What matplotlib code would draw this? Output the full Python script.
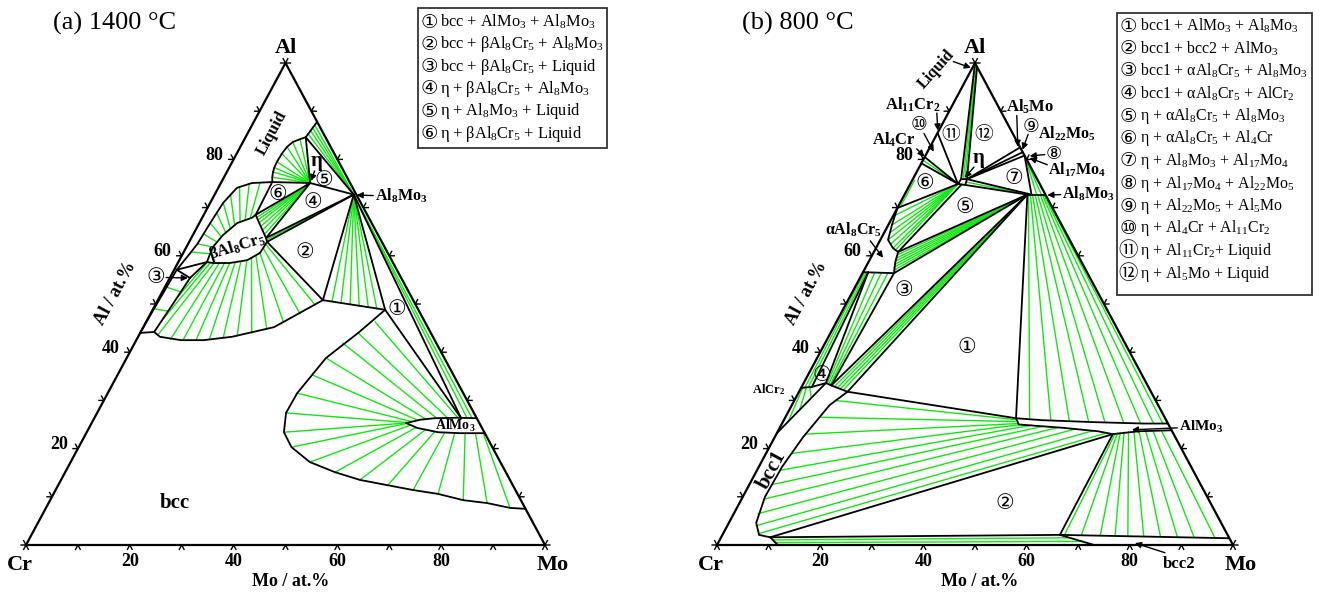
import numpy as np
import matplotlib
matplotlib.use("Agg")
import matplotlib.pyplot as plt
from matplotlib.patches import Rectangle

plt.rcParams['font.family'] = ['Liberation Serif', 'DejaVu Sans']
plt.rcParams['mathtext.default'] = 'regular'

W, H = 1321, 592
GREEN = '#10e810'
LWB = 1.3
LWG = 1.0
CIRC_FAMILY = ['DejaVu Sans', 'Noto Sans CJK JP']

# ============ (a) 1400 °C : compositions (Mo at.%, Al at.%) ============
a_Al8Mo3 = (26.8, 72.7)
a_eta = (17.2, 75.1)
a_L_edge = (12.2, 87.8)
a_L1 = (11.6, 84.6)
a_L2 = (9.8, 75.3)
a_L3 = (0.5, 57.1)
a_L4 = (0.0, 44.0)
a_B1 = (10.0, 68.5)
a_B2p = (14.4, 63.7)
a_B2 = (15.0, 62.9)
a_B3 = (5.5, 58.7)
a_B4 = (3.9, 55.4)
a_B5 = (2.6, 44.2)
a_P = (31.8, 50.8)
a_Q = (44.8, 48.8)
a_R = (70.7, 26.3)

a_liq_eta = [(11.6, 84.6), (10.7, 84.2), (9.6, 83.6), (9.0, 82.6), (8.7, 81.2), (8.6, 79.5),
             (8.7, 78.3), (8.9, 77.4), (9.3, 76.3), (9.8, 75.3)]
a_liq_outer = [(9.8, 75.3), (6.0, 75.1), (3.6, 74.1), (2.5, 71.0), (2.1, 66.8), (1.8, 62.5),
               (1.3, 60.3), (0.5, 57.1), (0.2, 50.0), (0.0, 44.0)]
a_beta = [(5.5, 58.7), (5.1, 61.8), (5.8, 64.3), (7.3, 66.8), (9.6, 67.9), (10.0, 68.5), (11.9, 66.4),
          (14.4, 63.7), (15.0, 62.9), (14.8, 60.6), (13.1, 59.1), (10.0, 58.5), (6.8, 58.5), (5.5, 58.7)]
a_bcc_upper = [(3.9, 55.4), (3.3, 50.0), (2.6, 44.2), (4.2, 43.2), (8.6, 42.5), (13.0, 42.5), (18.1, 43.2),
               (25.2, 45.2), (31.8, 50.8), (44.8, 48.8)]
a_bcc_lower = [(44.8, 48.8), (42.0, 44.0), (38.4, 38.8), (36.5, 31.5), (36.4, 27.4), (38.0, 23.4), (41.0, 20.3),
               (46.1, 17.2), (52.0, 15.1), (57.6, 13.5), (63.5, 12.4), (68.9, 11.4), (74.1, 10.6), (79.6, 9.3),
               (84.5, 8.7), (89.4, 7.7), (92.5, 7.5)]
a_almo3_top = [(60.6, 25.3), (63.0, 26.0), (65.5, 26.3), (70.0, 26.4), (73.7, 26.3)]
a_almo3_bot = [(60.6, 25.3), (63.2, 24.3), (67.7, 23.4), (72.0, 23.2), (76.8, 23.2)]

a_black_ties = [(a_L1, a_eta), (a_L2, a_eta), (a_L2, a_B1), (a_B1, a_eta), (a_eta, a_B2p),
                (a_B2p, a_Al8Mo3), (a_B2, a_Al8Mo3), (a_eta, a_Al8Mo3), (a_L1, a_Al8Mo3),
                (a_B2, a_P), (a_P, a_Al8Mo3), (a_Q, a_Al8Mo3), (a_Q, a_R), (a_R, a_Al8Mo3),
                (a_L3, a_B3), (a_L3, a_B4), (a_B3, a_B4), (a_L4, a_B5), (a_L_edge, a_L1)]

a_tie_eta_liq = [(10.7, 84.2), (9.6, 83.6), (9.0, 82.6), (8.7, 81.2), (8.6, 79.5), (8.7, 78.3),
                 (8.9, 77.4), (9.3, 76.3)]
a_tie_al8mo3_liq = [(11.7, 85.3), (11.8, 86.0), (11.9, 86.6), (12.0, 87.2)]
a_tie_eta_beta = [(10.5, 68.0), (11.0, 67.5), (11.5, 66.9), (12.2, 66.1), (12.9, 65.3), (13.7, 64.4)]
a_tie_lb_liq = [(7.5, 75.2), (5.5, 75.0), (4.0, 74.3), (3.0, 72.8), (2.5, 71.0), (2.2, 69.0), (2.1, 66.8),
                (2.0, 64.5), (1.8, 62.5), (1.5, 60.8)]
a_tie_lb_beta = [(9.3, 67.8), (8.5, 67.5), (7.7, 67.1), (7.0, 66.4), (6.5, 65.7), (6.0, 64.9), (5.6, 64.0),
                 (5.3, 62.9), (5.1, 61.8), (5.2, 60.4)]
a_tie_lbcc_liq = [(0.35, 53.5), (0.2, 49.0)]
a_tie_lbcc_bcc = [(3.6, 52.5), (3.1, 48.5)]
a_tie_bb_beta = [(5.6, 58.6), (6.2, 58.5), (7.0, 58.5), (8.0, 58.5), (9.0, 58.5), (10.0, 58.5), (11.0, 58.6),
                 (12.0, 58.8), (13.0, 59.1), (13.7, 59.5), (14.3, 60.0), (14.7, 60.7), (14.9, 61.6), (15.0, 62.4)]
a_tie_bb_bcc = [(3.5, 51.5), (3.0, 47.0), (3.6, 43.5), (6.5, 42.7), (9.0, 42.5), (11.5, 42.5), (14.0, 42.6),
                (16.5, 43.0), (19.0, 43.4), (21.5, 44.0), (24.0, 44.8), (26.5, 46.2), (28.8, 48.0), (30.8, 49.8)]
a_tie_al8mo3_bcc = [(33.7, 50.5), (35.6, 50.2), (37.5, 49.9), (39.4, 49.6), (41.3, 49.3), (43.1, 49.0)]
a_tie_al8mo3_almo3 = [(71.8, 26.35), (72.8, 26.3)]
a_tie_al8mo3_beta = [(14.7, 63.3)]
a_tie_ba_bcc = [(44.1, 46.3), (42.0, 44.0), (40.1, 41.9), (38.4, 38.8), (37.5, 35.3), (36.5, 31.5), (36.4, 27.4),
                (38.0, 23.4), (41.0, 20.3), (46.1, 17.2), (52.0, 15.1), (57.6, 13.5), (63.5, 12.4), (68.9, 11.4),
                (74.1, 10.6), (79.6, 9.3), (84.5, 8.7), (89.4, 7.7)]
a_tie_ba_almo3 = [(70.0, 26.4), (68.0, 26.4), (66.0, 26.3), (64.0, 26.1), (62.5, 25.9), (61.5, 25.6), (60.8, 25.4),
                  (60.6, 25.3), (60.7, 25.2), (61.5, 24.8), (63.0, 24.4), (65.0, 23.9), (67.0, 23.5), (69.0, 23.3),
                  (71.0, 23.2), (73.0, 23.2), (75.0, 23.2), (76.5, 23.2)]

a_legend = [r'bcc + AlMo$_3$ + Al$_8$Mo$_3$', r'bcc + βAl$_8$Cr$_5$ + Al$_8$Mo$_3$',
            r'bcc + βAl$_8$Cr$_5$ + Liquid', r'η + βAl$_8$Cr$_5$ + Al$_8$Mo$_3$',
            r'η + Al$_8$Mo$_3$ + Liquid', r'η + βAl$_8$Cr$_5$ + Liquid']

# ============ (b) 800 °C ============
b_La = (0.0, 100.0)
b_Lb = (0.8, 99.2)
b_eta_poly = [(9.25, 74.9), (9.35, 75.9), (10.5, 75.9), (10.75, 74.7), (9.25, 74.9)]
b_etaBL = (9.25, 74.9)
b_etaTL = (9.35, 75.9)
b_etaTR = (10.5, 75.9)
b_etaBR = (10.75, 74.7)
b_etaB = (10.0, 74.8)
b_Al11Cr2 = (0.0, 85.5)
b_Al4Cr_u = (0.0, 80.5)
b_Al4Cr_l = (0.0, 79.2)
b_Al5Mo = (17.5, 82.5)
b_Al22Mo5 = (18.5, 81.5)
b_Al17Mo4 = (19.2, 80.8)
b_AL = (23.8, 72.7)
b_A8a = (24.6, 72.7)
b_AR = (27.3, 72.7)
b_alpha = [(0.0, 69.9), (0.7, 66.4), (1.5, 63.3), (3.3, 61.6), (4.7, 60.8), (5.2, 58.7), (6.1, 56.4), (0.0, 56.6)]
b_aT = (0.0, 69.9)
b_aE = (4.7, 60.8)
b_aB = (6.1, 56.4)
b_aM = (1.0, 56.6)
b_AlCr2 = [(0.0, 32.6), (2.0, 32.8)]
b_AlCr2R = (2.0, 32.8)
b_T1 = (4.3, 33.6)
b_T2 = (5.6, 33.1)
b_T3 = (9.4, 31.8)
b_E1 = (0.0, 23.2)
b_bcc1 = [(4.3, 33.6), (5.6, 33.1), (9.4, 31.8), (7.3, 29.0), (5.5, 22.4), (4.5, 16.2), (4.3, 10.0),
          (5.3, 4.6), (7.1, 2.1), (9.5, 1.6)]
b_AM = (44.8, 26.3)
b_A2 = (65.2, 23.0)
b_almo3_top = [(44.8, 26.3), (50.0, 25.9), (60.0, 25.5), (70.0, 25.2), (74.8, 25.2)]
b_almo3_bot = [(44.8, 26.3), (46.0, 25.0), (55.0, 24.3), (62.0, 23.6), (65.2, 23.0), (70.0, 23.6), (76.2, 23.8)]
b_B1v = (9.5, 1.6)
b_B2v = (65.4, 2.1)
b_bcc1_foot = (11.8, 0.0)
b_bcc2_foot = (73.1, 0.0)
b_bcc2_edge = (98.6, 1.4)

b_black_ties = [(b_Al11Cr2, b_etaBL), (b_Al4Cr_u, b_etaBL), (b_Al4Cr_l, b_etaBL), (b_La, b_etaTL),
                (b_Lb, b_etaTR), (b_etaTR, b_Al5Mo), (b_etaTR, b_Al22Mo5), (b_etaTR, b_Al17Mo4),
                (b_etaTR, b_A8a), (b_etaBR, b_AL), (b_aT, b_etaBL), (b_aE, b_etaB), (b_aE, b_AL),
                (b_aB, b_AL), (b_aB, b_T2), (b_aM, b_T1), (b_AlCr2R, b_aM), (b_AlCr2R, b_T1),
                (b_E1, b_T1), (b_AL, b_T2), (b_AL, b_T3), (b_AL, b_AM), (b_T3, b_AM),
                (b_Al17Mo4, b_A8a), (b_A2, b_B1v), (b_B1v, b_B2v), (b_B2v, b_A2), (b_AL, b_AR),
                (b_B1v, b_bcc1_foot), (b_B2v, b_bcc2_foot), (b_B2v, b_bcc2_edge)]

b_tie_liq_eta = [((0.27, 99.73), (9.75, 75.9)), ((0.53, 99.47), (10.1, 75.9))]
b_tie_al4cr_eta = [(0.0, 79.85)]
b_tie_al4cr_alpha = [((0.45, 75.7), (0.45, 70.2))]
b_tie_eta_alpha = [(0.3, 68.4), (0.7, 66.4), (1.1, 64.8), (1.5, 63.3), (2.4, 62.4), (3.3, 61.6), (4.0, 61.2)]
b_tie_eta_al8mo3 = [((10.6, 75.3), (24.2, 72.7))]
b_tie_al17mo4_al8mo3 = [(25.6, 72.7), (26.5, 72.7)]
b_tie_alpha_al8mo3 = [(4.85, 60.2), (5.0, 59.5), (5.15, 58.9), (5.3, 58.2), (5.5, 57.6), (5.8, 57.0)]
b_tie_alcr2_alpha = [((0.3, 56.6), (0.7, 32.6)), ((0.65, 56.6), (1.35, 32.7))]
b_tie_bcc1_alpha = [((2.3, 56.55), (4.6, 33.5)), ((3.6, 56.5), (4.95, 33.4)), ((4.9, 56.45), (5.3, 33.2))]
b_tie_bcc1_al8mo3 = [(6.3, 32.85), (7.0, 32.6), (7.7, 32.4), (8.4, 32.15)]
b_tie_aa_top = [(24.0, 72.7), (24.4, 72.7), (24.8, 72.7), (25.3, 72.7), (25.8, 72.7), (26.3, 72.7),
                (26.7, 72.7), (27.0, 72.7), (27.2, 72.7)]
b_tie_aa_bot = [(47.6, 26.0), (51.8, 25.8), (55.5, 25.6), (59.3, 25.5), (62.5, 25.4), (66.2, 25.3),
                (69.5, 25.2), (72.0, 25.2), (73.8, 25.2)]
b_tie_alcr2_bcc1 = [((0.3, 32.6), (1.0, 25.6)), ((1.0, 32.7), (2.0, 28.0)), ((1.6, 32.75), (3.0, 30.5))]
b_tie_ba_bcc1 = [(7.8, 30.0), (6.5, 26.5), (5.6, 23.0), (5.0, 19.0), (4.5, 15.5), (4.3, 12.5), (4.3, 9.5),
                 (4.7, 6.5), (5.6, 4.0), (7.0, 2.4)]
b_tie_ba_almo3 = [(45.0, 26.0), (45.3, 25.6), (45.7, 25.2), (46.5, 25.0), (48.5, 24.85), (51.0, 24.65),
                  (54.0, 24.4), (57.5, 24.1), (61.0, 23.7), (64.0, 23.3)]
b_tie_bcc12 = [((10.3, 1.05), (67.6, 1.5)), ((11.0, 0.5), (70.5, 0.75))]
b_tie_b2a_top = [(65.6, 23.1), (66.0, 23.2), (66.5, 23.3), (67.2, 23.4), (68.0, 23.5), (69.0, 23.6),
                 (70.0, 23.6), (71.2, 23.7), (72.6, 23.75), (74.2, 23.8)]
b_tie_b2a_bot = [(66.3, 2.05), (69.6, 2.0), (73.3, 1.95), (76.2, 1.9), (78.7, 1.85), (81.8, 1.8),
                 (85.1, 1.7), (88.4, 1.65), (91.7, 1.55), (95.8, 1.45)]

b_legend = [r'bcc1 + AlMo$_3$ + Al$_8$Mo$_3$', r'bcc1 + bcc2 + AlMo$_3$',
            r'bcc1 + αAl$_8$Cr$_5$ + Al$_8$Mo$_3$', r'bcc1 + αAl$_8$Cr$_5$ + AlCr$_2$',
            r'η + αAl$_8$Cr$_5$ + Al$_8$Mo$_3$', r'η + αAl$_8$Cr$_5$ + Al$_4$Cr',
            r'η + Al$_8$Mo$_3$ + Al$_{17}$Mo$_4$', r'η + Al$_{17}$Mo$_4$ + Al$_{22}$Mo$_5$',
            r'η + Al$_{22}$Mo$_5$ + Al$_5$Mo', r'η + Al$_4$Cr + Al$_{11}$Cr$_2$',
            r'η + Al$_{11}$Cr$_2$+ Liquid', r'η + Al$_5$Mo + Liquid']
CIRCLED = ['①', '②', '③', '④', '⑤', '⑥', '⑦', '⑧', '⑨', '⑩', '⑪', '⑫']

# ======================== drawing helpers ========================
fig = plt.figure(figsize=(W / 100, H / 100), dpi=100)


def xy(pts):
    a = np.atleast_2d(np.asarray(pts, float))
    return a[:, 0] + a[:, 1] / 2.0, a[:, 1]


def line(ax, pts, color='k', lw=LWB, z=3):
    x, y = xy(pts)
    ax.plot(x, y, color=color, lw=lw, zorder=z, clip_on=False,
            solid_capstyle='round', solid_joinstyle='round')


def fan(ax, center, ends, color=GREEN, lw=LWG, z=2):
    for e in ends:
        line(ax, [center, e], color, lw, z)


def pairs(ax, starts, ends, color=GREEN, lw=LWG, z=2):
    for s, e in zip(starts, ends):
        line(ax, [s, e], color, lw, z)


def plist(ax, prs, color=GREEN, lw=LWG, z=2):
    for s, e in prs:
        line(ax, [s, e], color, lw, z)


def setup(rect):
    ax = fig.add_axes(rect)
    ax.set_xlim(0, 100)
    ax.set_ylim(0, 100)
    ax.axis('off')
    return ax


def frame(ax):
    ax.plot([0, 100, 50, 0], [0, 0, 100, 0], color='k', lw=1.6, zorder=5, clip_on=False)
    for v in range(0, 101, 10):
        for (x0, y0), (d1x, d1y), (d2x, d2y) in [((v, 0), (-0.45, -0.9), (0.45, -0.9)),
                                                 ((v / 2, v), (-0.95, 0), (-0.45, 0.9)),
                                                 ((100 - v / 2, v), (0.95, 0), (0.45, 0.9))]:
            ax.plot([x0 + d1x, x0, x0 + d2x], [y0 + d1y, y0, y0 + d2y], color='k', lw=1.0,
                    zorder=5, clip_on=False)
    for v in (20, 40, 60, 80):
        ax.text(v, -3.5, str(v), ha='center', va='center', fontsize=13, fontweight='bold')
        ax.text(v / 2 - 3.7, v + 0.8, str(v), ha='center', va='center', fontsize=13, fontweight='bold')
    ax.text(50, 103.2, 'Al', ha='center', va='center', fontsize=16, fontweight='bold')
    ax.text(-1.2, -4.1, 'Cr', ha='center', va='center', fontsize=16, fontweight='bold')
    ax.text(101.4, -4.1, 'Mo', ha='center', va='center', fontsize=16, fontweight='bold')
    ax.text(51, -7.6, 'Mo / at.%', ha='center', va='center', fontsize=13, fontweight='bold')
    ax.text(17.3, 52.3, 'Al / at.%', ha='center', va='center', fontsize=13, fontweight='bold',
            rotation=61.7, rotation_mode='anchor')


def circ(ax, X, Y, s, size=15):
    ax.text(X, Y, s, family=CIRC_FAMILY, fontsize=size, ha='center', va='center', zorder=7)


def lab(ax, X, Y, s, size=11.5, **kw):
    kw.setdefault('ha', 'center')
    ax.text(X, Y, s, fontsize=size, fontweight='bold', va='center', zorder=7, **kw)


def arrow(ax, tail, tip):
    ax.annotate('', xy=tip, xytext=tail,
                arrowprops=dict(arrowstyle='-|>', color='k', lw=1.0, mutation_scale=9,
                                shrinkA=0, shrinkB=0), annotation_clip=False, zorder=7)


def legend_box(x0, y0, x1, y1, items, ystart, dy, xc, xt, fs):
    fig.add_artist(Rectangle((x0 / W, 1 - y1 / H), (x1 - x0) / W, (y1 - y0) / H,
                             transform=fig.transFigure, fill=False, lw=1.3, ec='#333333'))
    for i, s in enumerate(items):
        y = ystart + i * dy
        fig.text(xc / W, 1 - y / H, CIRCLED[i], family=CIRC_FAMILY, fontsize=14,
                 ha='center', va='center')
        fig.text(xt / W, 1 - y / H, s, fontsize=fs, ha='left', va='center')


# ======================== (a) 1400 °C ========================
axA = setup([26 / W, 47 / H, 519 / W, 482 / H])
frame(axA)
fan(axA, a_eta, a_tie_eta_liq)
fan(axA, a_Al8Mo3, a_tie_al8mo3_liq)
fan(axA, a_eta, a_tie_eta_beta)
pairs(axA, a_tie_lb_liq, a_tie_lb_beta)
pairs(axA, a_tie_lbcc_liq, a_tie_lbcc_bcc)
pairs(axA, a_tie_bb_beta, a_tie_bb_bcc)
fan(axA, a_Al8Mo3, a_tie_al8mo3_bcc)
fan(axA, a_Al8Mo3, a_tie_al8mo3_almo3)
fan(axA, a_Al8Mo3, a_tie_al8mo3_beta)
pairs(axA, a_tie_ba_bcc, a_tie_ba_almo3)

for curve in (a_liq_eta, a_liq_outer, a_beta, a_bcc_upper, a_bcc_lower, a_almo3_top, a_almo3_bot):
    line(axA, curve)
for s, e in a_black_ties:
    line(axA, [s, e])

axA.text(5.2, 108.3, '(a) 1400 °C', fontsize=19, ha='left', va='center')
lab(axA, 47.4, 85.5, 'Liquid', 12, rotation=61.7)
lab(axA, 56.0, 79.6, 'η', 15)
arrow(axA, (55.6, 77.6), (54.9, 75.5))
lab(axA, 40.7, 61.8, r'βAl$_8$Cr$_5$', 12, rotation=17)
lab(axA, 67.2, 72.4, r'Al$_8$Mo$_3$', 11.5, ha='left')
arrow(axA, (66.9, 72.5), (63.7, 72.6))
lab(axA, 82.7, 24.6, r'AlMo$_3$', 10)
lab(axA, 28.7, 8.7, 'bcc', 15)
circ(axA, 25.0, 55.6, '③')
arrow(axA, (27.0, 55.5), (31.2, 55.4))
for s, X, Y in [('①', 71.5, 49.0), ('②', 53.8, 60.8), ('④', 55.3, 71.2), ('⑤', 57.4, 75.7), ('⑥', 48.6, 72.8)]:
    circ(axA, X, Y, s)

legend_box(418, 8, 607, 148, a_legend, 22, 22.3, 429, 440, 11.8)

# ======================== (b) 800 °C ========================
axB = setup([717 / W, 47 / H, 516 / W, 482 / H])
frame(axB)
plist(axB, b_tie_liq_eta)
fan(axB, b_etaBL, b_tie_al4cr_eta)
plist(axB, b_tie_al4cr_alpha)
fan(axB, b_etaBL, b_tie_eta_alpha)
plist(axB, b_tie_eta_al8mo3)
fan(axB, b_Al17Mo4, b_tie_al17mo4_al8mo3)
fan(axB, b_AL, b_tie_alpha_al8mo3)
plist(axB, b_tie_alcr2_alpha)
plist(axB, b_tie_bcc1_alpha)
fan(axB, b_AL, b_tie_bcc1_al8mo3)
pairs(axB, b_tie_aa_top, b_tie_aa_bot)
plist(axB, b_tie_alcr2_bcc1)
pairs(axB, b_tie_ba_bcc1, b_tie_ba_almo3)
plist(axB, b_tie_bcc12)
pairs(axB, b_tie_b2a_top, b_tie_b2a_bot)

for curve in (b_eta_poly, b_alpha, b_AlCr2, b_bcc1, b_almo3_top, b_almo3_bot):
    line(axB, curve)
for s, e in b_black_ties:
    line(axB, [s, e])

axB.text(4.8, 108.3, '(b) 800 °C', fontsize=19, ha='left', va='center')
lab(axB, 42.5, 98.6, 'Liquid', 11.5, rotation=48)
arrow(axB, (45.8, 100.3), (49.2, 99.0))
lab(axB, 38.0, 91.3, r'Al$_{11}$Cr$_2$', 12)
arrow(axB, (42.6, 89.6), (42.8, 86.0))
lab(axB, 34.3, 84.0, r'Al$_4$Cr', 12)
arrow(axB, (38.7, 82.2), (40.2, 80.6))
circ(axB, 39.1, 87.3, '⑩', 13.5)
arrow(axB, (40.1, 85.4), (42.0, 81.6))
circ(axB, 45.3, 85.1, '⑪', 13.5)
circ(axB, 51.7, 85.1, '⑫', 13.5)
lab(axB, 50.6, 80.2, 'η', 15)
arrow(axB, (49.8, 78.4), (48.0, 76.2))
lab(axB, 60.7, 90.9, r'Al$_5$Mo', 12)
arrow(axB, (58.1, 89.1), (58.3, 82.6))
circ(axB, 60.9, 86.9, '⑨', 13.5)
arrow(axB, (60.3, 85.2), (59.2, 82.0))
lab(axB, 62.3, 85.3, r'Al$_{22}$Mo$_5$', 11.5, ha='left')
circ(axB, 65.3, 81.2, '⑧', 13)
arrow(axB, (63.5, 81.0), (60.6, 80.7))
lab(axB, 64.2, 77.8, r'Al$_{17}$Mo$_4$', 11.5, ha='left')
arrow(axB, (64.0, 78.9), (60.6, 80.3))
lab(axB, 66.9, 72.8, r'Al$_8$Mo$_3$', 11.5, ha='left')
arrow(axB, (66.6, 72.7), (64.0, 72.6))
lab(axB, 26.4, 65.4, r'αAl$_8$Cr$_5$', 11.5)
arrow(axB, (29.7, 63.1), (32.2, 59.6))
lab(axB, 9.9, 32.2, r'AlCr$_2$', 9)
lab(axB, 93.8, 24.5, r'AlMo$_3$', 11)
arrow(axB, (89.2, 24.3), (80.4, 23.9))
lab(axB, 10.6, 15.6, 'bcc1', 15, rotation=61.8)
lab(axB, 89.5, -4.0, 'bcc2', 12)
arrow(axB, (86.8, -1.6), (81.0, 0.4))
for s, X, Y in [('①', 48.4, 41.1), ('②', 55.8, 8.7), ('③', 36.2, 52.9), ('④', 20.3, 35.3),
                ('⑤', 48.1, 70.1), ('⑥', 40.3, 75.1), ('⑦', 57.6, 76.1)]:
    circ(axB, X, Y, s)

legend_box(1117, 13, 1312, 295, b_legend, 26, 22.5, 1128, 1140, 11.4)

fig.savefig('out.png', dpi=100)
